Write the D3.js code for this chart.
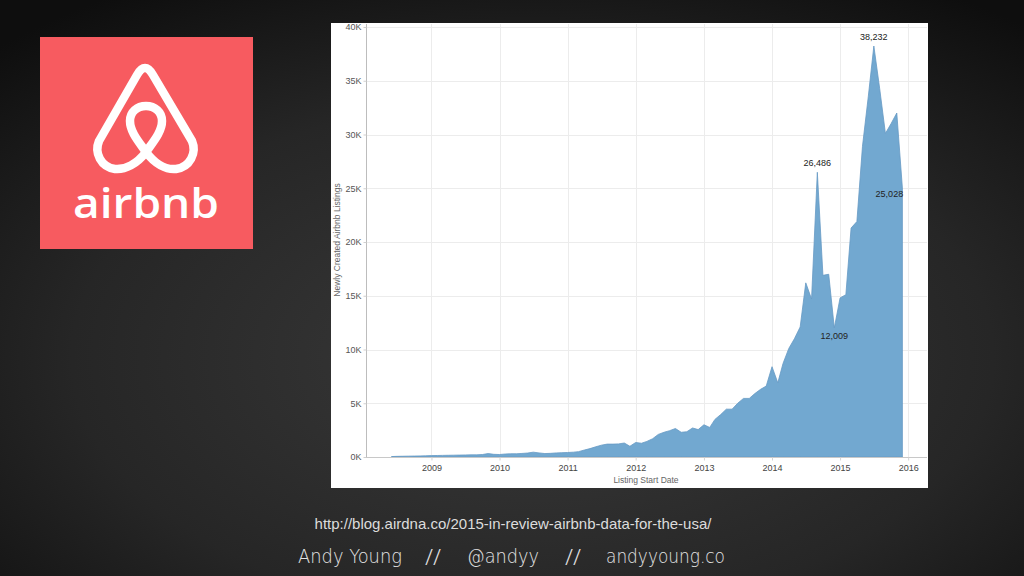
<!DOCTYPE html>
<html>
<head>
<meta charset="utf-8">
<script src="https://cdn.jsdelivr.net/npm/d3@7"></script>
<style>
  html, body { margin: 0; padding: 0; background: #1a1a1a; }
  svg { display: block; }
</style>
</head>
<body>
<svg id="chart" width="1024" height="576"></svg>
<script>
// ---------- DATA ----------
const months = [
  "2008-06","2008-07","2008-08","2008-09","2008-10","2008-11","2008-12",
  "2009-01","2009-02","2009-03","2009-04","2009-05","2009-06","2009-07","2009-08","2009-09","2009-10","2009-11","2009-12",
  "2010-01","2010-02","2010-03","2010-04","2010-05","2010-06","2010-07","2010-08","2010-09","2010-10","2010-11","2010-12",
  "2011-01","2011-02","2011-03","2011-04","2011-05","2011-06","2011-07","2011-08","2011-09","2011-10","2011-11","2011-12",
  "2012-01","2012-02","2012-03","2012-04","2012-05","2012-06","2012-07","2012-08","2012-09","2012-10","2012-11","2012-12",
  "2013-01","2013-02","2013-03","2013-04","2013-05","2013-06","2013-07","2013-08","2013-09","2013-10","2013-11","2013-12",
  "2014-01","2014-02","2014-03","2014-04","2014-05","2014-06","2014-07","2014-08","2014-09","2014-10","2014-11","2014-12",
  "2015-01","2015-02","2015-03","2015-04","2015-05","2015-06","2015-07","2015-08","2015-09","2015-10","2015-11","2015-12"
];
const listings = [
  40, 60, 70, 80, 90, 100, 110,
  130, 140, 150, 160, 170, 180, 190, 200, 200, 230, 320, 250,
  230, 280, 300, 300, 330, 370, 450, 380, 320, 340, 380, 400,
  420, 450, 500, 650, 780, 950, 1100, 1200, 1200, 1220, 1300, 1000,
  1350, 1280, 1450, 1700, 2100, 2300, 2450, 2650, 2300, 2350, 2700, 2550,
  3000, 2750, 3500, 3950, 4450, 4450, 5000, 5450, 5450, 5900, 6300, 6600,
  8400, 6900, 8700, 10100, 11000, 12100, 16200, 14700, 26486, 16900, 17000, 12009,
  14800, 15100, 21300, 21900, 28900, 33500, 38232, 34300, 30100, 31000, 32000, 25028
];
const yTicks = [0, 5000, 10000, 15000, 20000, 25000, 30000, 35000, 40000];
const yTickLabels = ["0K","5K","10K","15K","20K","25K","30K","35K","40K"];
const xTickYears = [2009, 2010, 2011, 2012, 2013, 2014, 2015, 2016];
const annotated = [
  { month: "2015-07", label: "38,232", pos: "above" },
  { month: "2014-09", label: "26,486", pos: "above" },
  { month: "2015-12", label: "25,028", pos: "left" },
  { month: "2014-12", label: "12,009", pos: "below" }
];
const yTitle = "Newly Created Airbnb Listings";
const xTitle = "Listing Start Date";
const sourceText = "http://blog.airdna.co/2015-in-review-airbnb-data-for-the-usa/";
const footerParts = ["Andy Young", "//", "@andyy", "//", "andyyoung.co"];

// ---------- SETUP ----------
const svg = d3.select("#chart");
const parse = d3.timeParse("%Y-%m");
const data = months.map((m, i) => ({ date: parse(m), value: listings[i] }));

// background
const defs = svg.append("defs");
const rg = defs.append("radialGradient").attr("id", "bg")
  .attr("cx", "52%").attr("cy", "62%").attr("r", "75%");
rg.append("stop").attr("offset", "0%").attr("stop-color", "#3a3a3a");
rg.append("stop").attr("offset", "60%").attr("stop-color", "#262626");
rg.append("stop").attr("offset", "100%").attr("stop-color", "#0e0e0e");
svg.append("rect").attr("width", 1024).attr("height", 576).attr("fill", "url(#bg)");

// ---------- LOGO ----------
const logo = svg.append("g");
logo.append("rect").attr("x", 40).attr("y", 37).attr("width", 213).attr("height", 212)
  .attr("fill", "#f75b60");
logo.append("path")
  .attr("d",
    "M146,152 C137,164 125,170 115,169 C101,167 94,153 99,141 L137,75 Q145,61 153,75 " +
    "L192,141 C197,153 190,167 176,169 C166,170 155,164 146,152 " +
    "C139,142 130,132 130,121 C130,112 137,106 146,106 C155,106 162,112 162,121 C162,132 153,142 146,152 Z")
  .attr("fill", "none").attr("stroke", "#fff").attr("stroke-width", 8.5)
  .attr("stroke-linejoin", "round").attr("stroke-linecap", "round");
logo.append("text").attr("x", 146).attr("y", 218)
  .attr("text-anchor", "middle")
  .attr("font-family", "'Open Sans', 'DejaVu Sans', sans-serif")
  .attr("font-weight", 600).attr("font-size", 42)
  .attr("fill", "#fff")
  .attr("textLength", 146).attr("lengthAdjust", "spacingAndGlyphs")
  .text("airbnb");

// ---------- CHART BOX ----------
svg.append("rect").attr("x", 331).attr("y", 23).attr("width", 597).attr("height", 465)
  .attr("fill", "#ffffff");

const plotL = 366, plotR = 927, plotT = 24, plotB = 457;
const x = d3.scaleTime()
  .domain([new Date(2008, 0, 16), new Date(2016, 3, 11)])
  .range([plotL, plotR]);
const y = d3.scaleLinear().domain([0, 40000]).range([plotB, 27]);

const g = svg.append("g").attr("font-family", "'Liberation Sans', Arial, sans-serif");

// grid
g.append("g").selectAll("line").data(yTicks.slice(1)).join("line")
  .attr("x1", plotL).attr("x2", plotR)
  .attr("y1", d => Math.round(y(d)) + 0.5).attr("y2", d => Math.round(y(d)) + 0.5)
  .attr("stroke", "#ececec").attr("stroke-width", 1);
g.append("g").selectAll("line").data(xTickYears).join("line")
  .attr("x1", d => Math.round(x(new Date(d, 0, 1))) + 0.5)
  .attr("x2", d => Math.round(x(new Date(d, 0, 1))) + 0.5)
  .attr("y1", plotT).attr("y2", plotB)
  .attr("stroke", "#ececec").attr("stroke-width", 1);

// area
const area = d3.area()
  .x(d => x(d.date))
  .y0(y(0))
  .y1(d => y(d.value));
g.append("path").datum(data)
  .attr("d", area)
  .attr("fill", "#72a8d0")
  .attr("stroke", "#6699c4").attr("stroke-width", 0.8)
  .attr("stroke-linejoin", "round");

// y axis
const yAxis = d3.axisLeft(y).tickValues(yTicks)
  .tickFormat((d, i) => yTickLabels[i]).tickSize(3).tickPadding(2);
const ya = g.append("g").attr("transform", `translate(${plotL + 0.5},0)`).call(yAxis);
ya.select(".domain").attr("d", `M0,${plotT}V${plotB}`).attr("stroke", "#bdbdbd");
ya.selectAll(".tick line").attr("stroke", "#cfcfcf");
ya.selectAll(".tick text").attr("fill", "#555").attr("font-size", 9)
  .attr("font-family", "'Liberation Sans', Arial, sans-serif");

// x axis
const xAxis = d3.axisBottom(x).tickValues(xTickYears.map(v => new Date(v, 0, 1)))
  .tickFormat(d3.timeFormat("%Y")).tickSize(3).tickPadding(4);
const xa = g.append("g").attr("transform", `translate(0,${plotB + 0.5})`).call(xAxis);
xa.select(".domain").attr("d", `M${plotL},0H${plotR}`).attr("stroke", "#c8c8c8");
xa.selectAll(".tick line").attr("stroke", "#d5d5d5");
xa.selectAll(".tick text").attr("fill", "#444").attr("font-size", 9)
  .attr("font-family", "'Liberation Sans', Arial, sans-serif");

// titles
g.append("text").attr("transform", `translate(340,240) rotate(-90)`)
  .attr("text-anchor", "middle").attr("font-size", 8.5).attr("fill", "#666")
  .text(yTitle);
g.append("text").attr("x", 646).attr("y", 483)
  .attr("text-anchor", "middle").attr("font-size", 8.5).attr("fill", "#666")
  .text(xTitle);

// annotations
annotated.forEach(a => {
  const d = data.find(p => +p.date === +parse(a.month));
  let tx = x(d.date), ty = y(d.value);
  if (a.pos === "above") ty -= 6;
  if (a.pos === "below") ty += 11;
  if (a.pos === "left") { tx -= 13; ty += 9; }
  g.append("text").attr("x", tx).attr("y", ty)
    .attr("text-anchor", "middle").attr("font-size", 9).attr("fill", "#222")
    .text(a.label);
});

// ---------- FOOTER ----------
svg.append("text").attr("x", 513).attr("y", 529)
  .attr("text-anchor", "middle")
  .attr("font-family", "'Liberation Sans', Arial, sans-serif")
  .attr("font-size", 15).attr("fill", "#dcdcdc")
  .text(sourceText);

const footerX = [298, 425, 467, 565, 606];
const footerW = [104, 16, 72, 16, 119];
footerParts.forEach((t, i) => {
  svg.append("text").attr("x", footerX[i]).attr("y", 563)
    .attr("font-family", "'DejaVu Sans', sans-serif").attr("font-weight", 300)
    .attr("font-size", 19).attr("fill", "#e4e4e4")
    .attr("textLength", footerW[i]).attr("lengthAdjust", "spacingAndGlyphs")
    .text(t);
});
</script>
</body>
</html>
